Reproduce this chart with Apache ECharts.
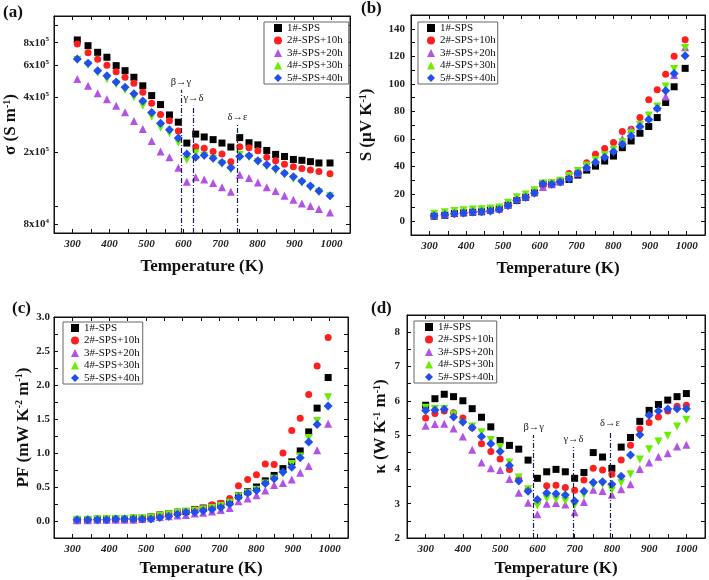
<!DOCTYPE html>
<html>
<head>
<meta charset="utf-8">
<script src="https://cdn.jsdelivr.net/npm/echarts@6.0.0/dist/echarts.min.js"></script>
<style>
html, body { margin: 0; padding: 0; background: #fff; }
#main { width: 709px; height: 580px; }
</style>
</head>
<body>
<div id="main"></div>
<script>
var names = ['1#-SPS', '2#-SPS+10h', '3#-SPS+20h', '4#-SPS+30h', '5#-SPS+40h'];

// temperatures (K) for panels a, b, c
var T = [313, 342, 368, 393, 418, 442, 466, 490, 514, 538, 562, 586, 609, 633, 656, 680, 704, 728, 752, 777, 801, 825, 849, 873, 897, 920, 943, 966, 996];
// temperatures (K) for panel d
var Td = [300, 325, 350, 375, 400, 425, 450, 475, 500, 525, 550, 575, 600, 625, 650, 675, 700, 725, 750, 775, 800, 825, 850, 875, 900, 925, 950, 975, 1000];

// (a) sigma, x10^5 S/m
var sigma1 = [8.28, 7.70, 7.08, 6.65, 5.98, 5.61, 5.16, 4.63, 4.09, 3.65, 3.20, 2.92, 2.24, 2.51, 2.42, 2.34, 2.24, 2.13, 2.40, 2.25, 2.19, 2.04, 1.94, 1.89, 1.82, 1.80, 1.77, 1.74, 1.74];
var sigma2 = [7.87, 7.05, 6.48, 6.01, 5.54, 5.16, 4.78, 4.27, 3.71, 3.22, 2.97, 2.61, null, 2.14, 2.10, 2.01, 1.95, 1.77, 2.14, 2.11, 2.03, 1.87, 1.79, 1.71, 1.66, 1.62, 1.59, 1.56, 1.52];
var sigma3 = [5.05, 4.64, 4.21, 3.91, 3.59, 3.31, 2.96, 2.68, 2.30, 2.01, 1.87, 1.64, 1.37, 1.45, 1.41, 1.35, 1.28, 1.21, 1.50, 1.44, 1.36, 1.28, 1.22, 1.15, 1.09, 1.04, 1.01, 0.97, 0.93];
var sigma4 = [6.43, 6.03, 5.47, 5.03, 4.72, 4.39, 4.01, 3.60, 3.13, 2.72, 2.54, 2.25, 1.81, 1.97, 1.91, 1.83, 1.72, 1.60, 1.93, 1.87, 1.76, 1.66, 1.58, 1.50, 1.42, 1.35, 1.27, 1.20, 1.14];
var sigma5 = [6.51, 6.16, 5.61, 5.26, 4.86, 4.55, 4.18, 3.82, 3.30, 2.88, 2.65, 2.39, 1.95, 1.87, 1.92, 1.85, 1.75, 1.64, 1.89, 1.91, 1.79, 1.70, 1.62, 1.53, 1.46, 1.38, 1.30, 1.22, 1.15];
var sigmaTicks = [0.8, 2, 4, 6, 8];

// (b) Seebeck, uV/K
var S1 = [3.7, 4.4, 5.6, 6.1, 6.6, 6.9, 8.0, 9.0, 11.7, 15.1, 17.5, 20.7, 27.3, 26.8, 28.7, 30.4, 33.6, 37.2, 40.1, 43.8, 47.4, 53.5, 58.4, 64.0, 68.9, 75.4, 86.4, 97.8, 111.2];
var S2 = [3.8, 4.5, 5.5, 6.2, 6.8, 7.0, 7.6, 8.5, 11.3, 15.5, 17.8, 20.8, 26.0, 27.8, 29.5, 34.8, 36.0, 42.6, 48.7, 53.0, 57.2, 65.2, 66.9, 75.4, 88.3, 95.6, 107.0, 120.0, 132.0];
var S3 = [4.5, 5.5, 6.5, 7.0, 7.5, 7.8, 8.5, 9.5, 12.0, 16.0, 18.5, 21.5, 25.0, 27.0, 29.0, 32.5, 35.0, 39.5, 44.5, 48.5, 53.0, 60.0, 67.0, 70.5, 75.5, 83.0, 90.7, 106.3, 126.5];
var S4 = [5.5, 6.5, 7.5, 8.0, 8.5, 8.8, 9.3, 10.0, 13.5, 17.5, 19.5, 22.5, 27.5, 27.8, 29.5, 33.0, 36.5, 40.5, 44.5, 48.0, 52.0, 57.5, 64.0, 70.0, 77.0, 83.5, 98.0, 110.7, 126.0];
var S5 = [4.0, 4.8, 5.5, 6.0, 6.8, 7.0, 7.5, 8.5, 11.5, 15.2, 17.5, 20.5, 27.2, 27.0, 28.5, 31.0, 35.0, 39.0, 43.0, 46.5, 50.5, 56.0, 62.0, 69.0, 74.0, 82.0, 95.0, 107.5, 120.3];

// (c) power factor, mW/(K^2 m)
var PF1 = [0.01, 0.02, 0.02, 0.02, 0.03, 0.03, 0.04, 0.04, 0.06, 0.09, 0.11, 0.13, 0.14, 0.17, 0.19, 0.22, 0.25, 0.28, 0.37, 0.43, 0.50, 0.59, 0.67, 0.77, 0.87, 1.03, 1.31, 1.66, 2.11];
var PF2 = [0.01, 0.01, 0.02, 0.02, 0.03, 0.03, 0.03, 0.04, 0.05, 0.08, 0.11, 0.13, 0.14, 0.17, 0.19, 0.24, 0.26, 0.33, 0.52, 0.61, 0.68, 0.84, 0.83, 1.00, 1.33, 1.51, 1.86, 2.28, 2.70];
var PF3 = [0.01, 0.01, 0.02, 0.02, 0.02, 0.02, 0.02, 0.03, 0.04, 0.06, 0.07, 0.08, 0.09, 0.11, 0.12, 0.14, 0.16, 0.19, 0.29, 0.33, 0.38, 0.45, 0.53, 0.56, 0.61, 0.71, 0.81, 1.04, 1.43];
var PF4 = [0.02, 0.02, 0.03, 0.03, 0.03, 0.03, 0.04, 0.04, 0.05, 0.08, 0.10, 0.12, 0.14, 0.15, 0.17, 0.19, 0.22, 0.27, 0.36, 0.41, 0.46, 0.55, 0.62, 0.69, 0.84, 0.95, 1.22, 1.47, 1.82];
var PF5 = [0.02, 0.02, 0.02, 0.02, 0.03, 0.03, 0.03, 0.03, 0.03, 0.05, 0.07, 0.10, 0.13, 0.13, 0.15, 0.17, 0.20, 0.25, 0.35, 0.41, 0.45, 0.55, 0.62, 0.72, 0.79, 0.93, 1.16, 1.42, 1.69];

// (d) thermal conductivity, W/(K m)
var K1 = [5.87, 6.06, 6.19, 6.12, 6.00, 5.77, 5.52, 5.24, 4.84, 4.70, 4.59, 4.27, 3.74, 3.93, 4.00, 3.93, 3.74, 3.91, 4.49, 4.36, 4.03, 4.65, 4.93, 5.40, 5.72, 5.89, 6.02, 6.12, 6.21];
var K2 = [5.50, 5.63, 5.70, 5.65, 5.50, 5.22, 4.75, 4.52, 4.30, 4.00, 3.72, 3.40, 3.05, 3.52, 3.54, 3.47, 3.39, 3.69, 4.03, 3.98, 3.86, 4.27, 4.70, 5.18, 5.37, 5.53, 5.70, 5.84, 5.87];
var K3 = [5.27, 5.32, 5.33, 5.19, 4.96, 4.57, 4.20, 4.03, 3.98, 3.72, 3.32, 3.03, 2.69, 3.00, 3.02, 2.98, 2.75, 3.05, 3.41, 3.37, 3.26, 3.42, 3.57, 4.01, 4.20, 4.37, 4.47, 4.67, 4.72];
var K4 = [5.80, 5.76, 5.76, 5.60, 5.35, 5.25, 5.08, 4.86, 4.65, 4.20, 3.76, 3.42, 2.95, 3.15, 3.12, 3.08, 2.95, 3.25, 3.54, 3.57, 3.39, 3.61, 3.86, 4.29, 4.59, 4.81, 4.98, 5.25, 5.45];
var K5 = [5.72, 5.73, 5.75, 5.53, 5.38, 5.21, 4.96, 4.75, 4.52, 4.11, 3.66, 3.36, 3.12, 3.31, 3.29, 3.25, 3.08, 3.36, 3.62, 3.64, 3.57, 3.80, 4.42, 5.01, 5.58, 5.70, 5.76, 5.77, 5.77];

// phase transitions: temperature and top of the dash-dot line
var transNames = ['β→γ', 'γ→δ', 'δ→ε'];
var transA = [593, 627, 746];
var transATop = [4.40, 3.59, 2.82];   // x10^5 S/m
var transD = [590, 697, 795];
var transDTop = [5.0, 4.65, 5.12];

var F = 'Liberation Serif';
var colors = ['#000000', '#ff1f1f', '#b452e8', '#6aee00', '#1f50ec'];
var symbols = ['rect', 'circle', 'triangle', 'triangle', 'diamond'];
var symRot = [0, 0, 0, 180, 0];
var symSize = [7, 7, 8, 8, 9];

var myChart;

window.onload = function () {
    initChart();
};

function lg(v) { //sigma (x10^5) -> log10 scale
    return Math.log10(v * 1e5);
}

function toPoints(xs, ys, conv) {
    var out = [];
    for (var i = 0; i < xs.length; i++) {
        if (ys[i] == null) continue;
        out.push([xs[i], conv ? conv(ys[i]) : ys[i]]);
    }
    return out;
}

function panelSeries(g, xs, sets, conv, mark) {
    return sets.map(function (ys, k) {
        var s = {
            name: names[k],
            type: 'scatter',
            xAxisIndex: 2 * g,
            yAxisIndex: 2 * g,
            symbol: symbols[k],
            symbolRotate: symRot[k],
            symbolSize: symSize[k],
            itemStyle: { color: colors[k], opacity: 1 },
            data: toPoints(xs, ys, conv)
        };
        if (k == 0 && mark) s.markLine = mark;
        return s;
    });
}

function transLines(ts, tops, yMin, conv) {
    var data = [];
    for (var i = 0; i < ts.length; i++) {
        data.push([
            { coord: [ts[i], yMin], name: transNames[i] },
            { coord: [ts[i], conv ? conv(tops[i]) : tops[i]] }
        ]);
    }
    return {
        silent: true,
        symbol: ['none', 'none'],
        lineStyle: { color: '#1b2050', width: 1.2, type: [5, 2, 1, 2] },
        label: { show: true, position: 'end', distance: 2, formatter: '{b}', fontFamily: F, fontSize: 10.5, color: '#222' },
        data: data
    };
}

function xAxes(g, gap) {
    return [{
        type: 'value', gridIndex: g, min: 250, max: 1050, interval: 50,
        name: 'Temperature (K)', nameLocation: 'middle', nameGap: gap,
        nameTextStyle: { fontFamily: F, fontSize: 17, fontWeight: 'bold', color: '#111' },
        axisLine: { show: true, onZero: false, lineStyle: { color: '#111' } },
        axisTick: { inside: true, length: 4, lineStyle: { color: '#111' } },
        axisLabel: {
            interval: 0, margin: 6, fontFamily: F, fontSize: 11, fontWeight: 'bold', fontStyle: 'italic', color: '#222',
            formatter: function (v) { return v % 100 === 0 ? v : ''; }
        },
        splitLine: { show: false }
    }, {
        type: 'value', gridIndex: g, position: 'top', min: 250, max: 1050, interval: 50,
        axisLine: { show: true, onZero: false, lineStyle: { color: '#111' } },
        axisTick: { inside: true, length: 4, lineStyle: { color: '#111' } },
        axisLabel: { show: false },
        splitLine: { show: false }
    }];
}

function yAxes(g, cfg) {
    var main = {
        type: 'value', gridIndex: g, min: cfg.min, max: cfg.max,
        name: cfg.name, nameLocation: 'middle', nameGap: cfg.gap,
        nameTextStyle: {
            color: '#111',
            rich: {
                t: { fontFamily: F, fontSize: 17, fontWeight: 'bold', color: '#111' },
                s: { fontFamily: F, fontSize: 10, fontWeight: 'bold', color: '#111', verticalAlign: 'top', padding: [0, 0, 8, 0] }
            }
        },
        axisLine: { show: true, onZero: false, lineStyle: { color: '#111' } },
        axisTick: { inside: true, length: 4, lineStyle: { color: '#111' } },
        axisLabel: {
            interval: 0, margin: cfg.margin, fontFamily: F, fontSize: 11, fontWeight: 'bold', color: '#222',
            formatter: cfg.fmt, rich: cfg.rich
        },
        splitLine: { show: false }
    };
    var mirror = {
        type: 'value', gridIndex: g, position: 'right', min: cfg.min, max: cfg.max,
        axisLine: { show: true, onZero: false, lineStyle: { color: '#111' } },
        axisTick: { inside: true, length: 4, lineStyle: { color: '#111' } },
        axisLabel: { show: false },
        splitLine: { show: false }
    };
    if (cfg.interval) {
        main.interval = cfg.interval;
        mirror.interval = cfg.interval;
    }
    if (cfg.tickValues) {
        main.axisTick.customValues = cfg.tickValues;
        mirror.axisTick.customValues = cfg.tickValues;
        main.axisLabel.customValues = cfg.labelValues;
    }
    return [main, mirror];
}

function legendAt(left, top, pad) {
    return {
        orient: 'vertical', left: left, top: top, data: names,
        itemWidth: 8, itemHeight: 8, itemGap: 0.5, padding: pad,
        borderColor: '#666', borderWidth: 1, backgroundColor: '#fff',
        selectedMode: false,
        textStyle: { fontFamily: F, fontSize: 11, color: '#111', lineHeight: 12 }
    };
}

function initChart() {
    myChart = echarts.init(document.getElementById('main'));

    var logMin = 4.855, logMax = 6.05;
    var tickA = [0.8, 1, 2, 4, 6, 8, 10].map(lg);

    var yA = yAxes(0, {
        min: logMin, max: logMax, gap: 34, margin: 5,
        name: '{t|σ (S m}{s|-1}{t|)}',
        tickValues: tickA, labelValues: sigmaTicks.map(lg),
        fmt: function (v) {
            var e = Math.floor(v + 1e-6);
            var m = Math.round(Math.pow(10, v - e));
            return '{m|' + m + 'x10}{e|' + e + '}';
        },
        rich: {
            m: { fontFamily: F, fontSize: 11, fontWeight: 'bold', color: '#222' },
            e: { fontFamily: F, fontSize: 7, fontWeight: 'bold', color: '#222', verticalAlign: 'top', padding: [0, 0, 6, 0] }
        }
    });
    var yB = yAxes(1, {
        min: -10, max: 150, interval: 10, gap: 35, margin: 6,
        name: '{t|S (μV K}{s|-1}{t|)}',
        fmt: function (v) { return (v % 20 === 0 && v >= 0 && v <= 140) ? v : ''; }
    });
    var yC = yAxes(2, {
        min: -0.25, max: 3.0, interval: 0.25, gap: 21, margin: 4,
        name: '{t|PF (mW K}{s|-2}{t| m}{s|-1}{t|)}',
        fmt: function (v) {
            var r = Math.round(v * 100);
            return (r % 50 === 0 && r >= 0) ? (r / 100).toFixed(1) : '';
        }
    });
    var yD = yAxes(3, {
        min: 2, max: 8.5, interval: 0.5, gap: 17, margin: 7,
        name: '{t|κ (W K}{s|-1}{t| m}{s|-1}{t|)}',
        fmt: function (v) {
            var r = Math.round(v * 10);
            return (r % 10 === 0 && r <= 80) ? r / 10 : '';
        }
    });

    var series = []
        .concat(panelSeries(0, T, [sigma1, sigma2, sigma3, sigma4, sigma5], lg, transLines(transA, transATop, logMin, lg)))
        .concat(panelSeries(1, T, [S1, S2, S3, S4, S5]))
        .concat(panelSeries(2, T, [PF1, PF2, PF3, PF4, PF5]))
        .concat(panelSeries(3, Td, [K1, K2, K3, K4, K5], null, transLines(transD, transDTop, 2)));

    var gridStyle = { show: true, borderColor: '#111', borderWidth: 1, backgroundColor: 'transparent', outerBoundsMode: 'none' };

    var options = {
        animation: false,
        backgroundColor: '#fff',
        grid: [
            Object.assign({ left: 54, top: 16, width: 296, height: 217 }, gridStyle),
            Object.assign({ left: 411, top: 15, width: 294, height: 220 }, gridStyle),
            Object.assign({ left: 54, top: 317, width: 294, height: 221 }, gridStyle),
            Object.assign({ left: 407, top: 315, width: 298, height: 223 }, gridStyle)
        ],
        xAxis: [].concat(xAxes(0, 25), xAxes(1, 25), xAxes(2, 22), xAxes(3, 22)),
        yAxis: [].concat(yA, yB, yC, yD),
        legend: [
            legendAt(264, 22, [0, 6, 0, 10]),
            legendAt(418, 22, [0, 2, 0, 9]),
            legendAt(63, 322, [0, 3, 0, 8]),
            legendAt(414, 321, [0, 3, 0, 11])
        ],
        graphic: [
            { type: 'text', left: 3, top: 4, style: { text: '(a)', font: 'bold 17px "Liberation Serif"', fill: '#111' } },
            { type: 'text', left: 361, top: 0, style: { text: '(b)', font: 'bold 17px "Liberation Serif"', fill: '#111' } },
            { type: 'text', left: 12, top: 300, style: { text: '(c)', font: 'bold 17px "Liberation Serif"', fill: '#111' } },
            { type: 'text', left: 371, top: 300, style: { text: '(d)', font: 'bold 17px "Liberation Serif"', fill: '#111' } }
        ],
        series: series
    };
    myChart.setOption(options);
}
</script>
</body>
</html>
